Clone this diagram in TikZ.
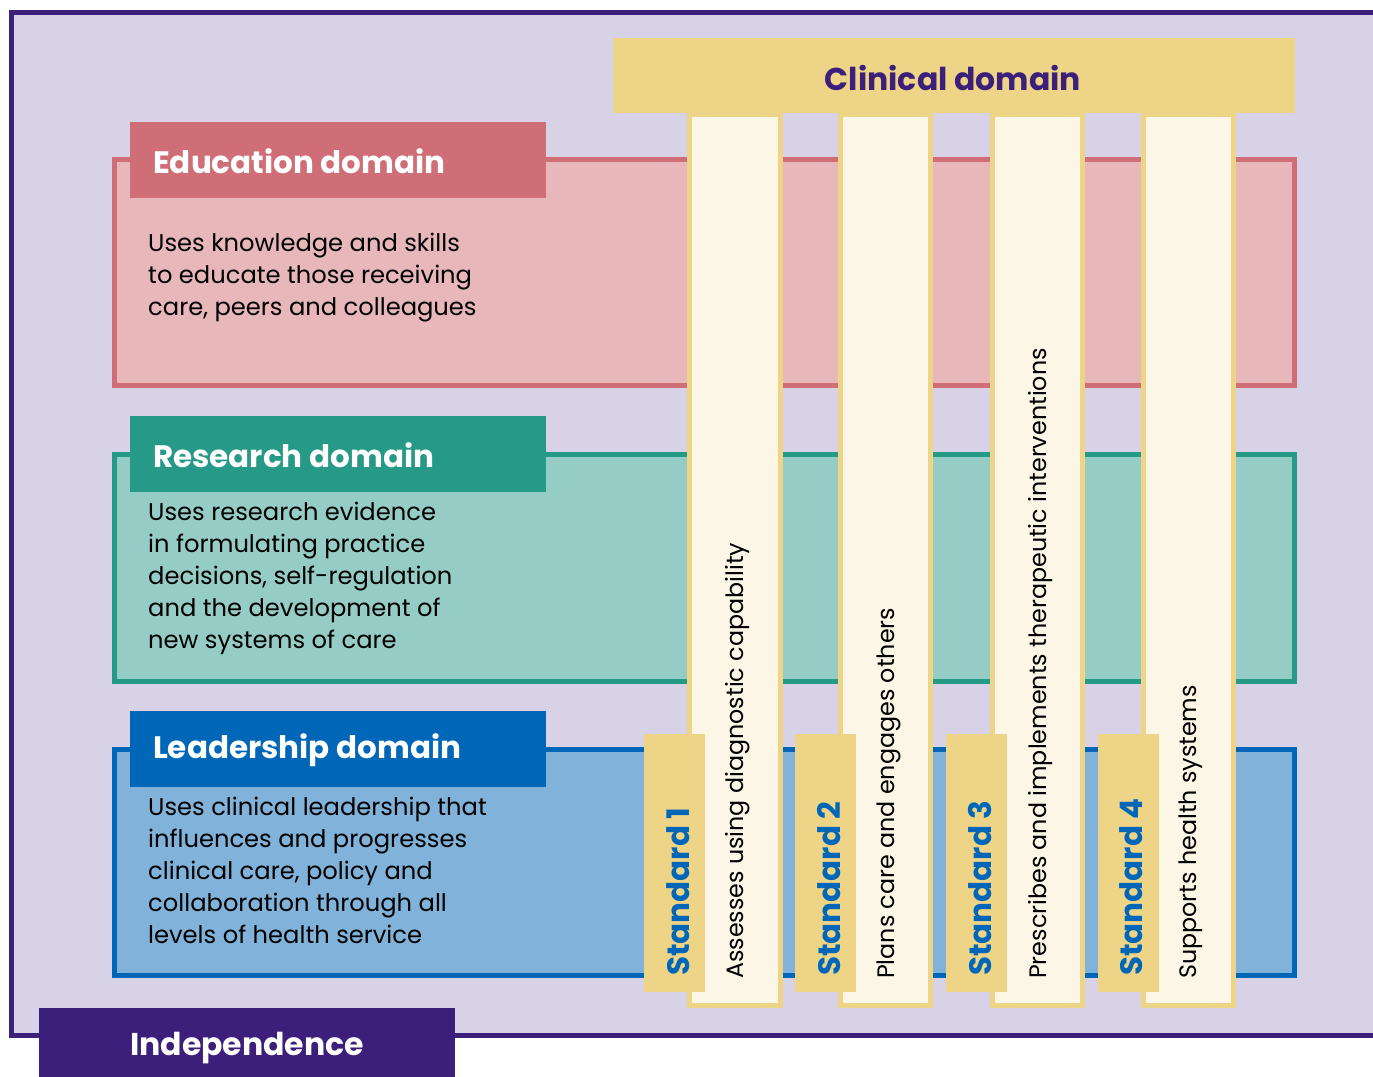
\documentclass[tikz,border=0pt]{standalone}
\usepackage{fontspec}
\setmainfont{Poppins}
\definecolor{bglav}{HTML}{D8D2E6}
\definecolor{frameP}{HTML}{3B1F7A}
\definecolor{eduB}{HTML}{CF6E77}
\definecolor{eduF}{HTML}{E8B7BA}
\definecolor{resB}{HTML}{279A87}
\definecolor{resF}{HTML}{95CCC5}
\definecolor{leaB}{HTML}{0066B8}
\definecolor{leaF}{HTML}{80B2DA}
\definecolor{clinY}{HTML}{EED487}
\definecolor{cream}{HTML}{FCF6E7}
\tikzset{
  domainbox/.style={line width=5pt},
  headtab/.style={inner sep=0, text=white, font=\bfseries\fontsize{31}{36}\selectfont},
  bodytxt/.style={inner sep=0, anchor=west, align=left, text=black, font=\fontsize{24.2}{32}\selectfont},
  colbox/.style={draw=clinY, fill=cream, line width=5pt},
  stdtab/.style={fill=clinY},
  stdtxt/.style={inner sep=0, rotate=90, anchor=west, text=leaB, font=\bfseries\fontsize{31}{34}\selectfont},
  coltxt/.style={inner sep=0, rotate=90, anchor=west, text=black, font=\fontsize{23.8}{28}\selectfont},
}
\begin{document}
\begin{tikzpicture}[x=1pt,y=-1pt]
\useasboundingbox (0,0) rectangle (1373,1076);
\clip (0,0) rectangle (1373,1076);
% outer frame
\fill[white] (0,0) rectangle (1373,1076);
\draw[draw=frameP, fill=bglav, line width=5pt] (1400,12.5) -- (11.5,12.5) -- (11.5,1035.5) -- (1400,1035.5);
% domains
\draw[domainbox, draw=eduB, fill=eduF] (114.5,159.5) rectangle (1294.5,385.5);
\draw[domainbox, draw=resB, fill=resF] (114.5,454.5) rectangle (1294.5,681.5);
\draw[domainbox, draw=leaB, fill=leaF] (114.5,749.5) rectangle (1294.5,975.5);
% header tabs
\fill[eduB] (130,122) rectangle (546,198);
\fill[resB] (130,416) rectangle (546,492);
\fill[leaB] (130,711) rectangle (546,787);
\node[headtab, anchor=west] (eduh) at (153,161) {Education domain};
\node[headtab, anchor=west] (resh) at (153,455) {Research domain};
\node[headtab, anchor=west] (leah) at (153,750) {Leadership domain};
% body texts
\node[bodytxt] (edut) at (148,278) {Uses knowledge and skills\\to educate those receiving\\care, peers and colleagues};
\node[bodytxt] (rest) at (148,578) {Uses research evidence\\in formulating practice\\decisions, self-regulation\\and the development of\\new systems of care};
\node[bodytxt] (leat) at (148,870) {Uses clinical leadership that\\influences and progresses\\clinical care, policy and\\collaboration through all\\levels of health service};
% columns
\draw[colbox] (689.5,114.5) rectangle (780.5,1005.5);
\draw[colbox] (840.5,114.5) rectangle (930.5,1005.5);
\draw[colbox] (992.5,114.5) rectangle (1082.5,1005.5);
\draw[colbox] (1143.5,114.5) rectangle (1233.5,1005.5);
% clinical header
\fill[clinY] (613,38) rectangle (1295,113);
\node[inner sep=0, text=frameP, font=\bfseries\fontsize{31.5}{36}\selectfont] (clin) at (953,78) {Clinical domain};
% standard tabs
\fill[stdtab] (644,734) rectangle (705,992);
\fill[stdtab] (795,734) rectangle (856,992);
\fill[stdtab] (946,734) rectangle (1007,992);
\fill[stdtab] (1098,734) rectangle (1159,992);
\node[stdtxt] (s1) at (678,976) {Standard 1};
\node[stdtxt] (s2) at (829,976) {Standard 2};
\node[stdtxt] (s3) at (980,976) {Standard 3};
\node[stdtxt] (s4) at (1131,976) {Standard 4};
\node[coltxt] (c1) at (738,979) {Assesses using diagnostic capability};
\node[coltxt] (c2) at (889,979) {Plans care and engages others};
\node[coltxt] (c3) at (1041,979) {Prescribes and implements therapeutic interventions};
\node[coltxt] (c4) at (1191,979) {Supports health systems};
% independence
\fill[frameP] (39,1008) rectangle (455,1080);
\node[inner sep=0, text=white, font=\bfseries\fontsize{31.5}{36}\selectfont] (ind) at (247,1048) {Independence};
\end{tikzpicture}
\end{document}
